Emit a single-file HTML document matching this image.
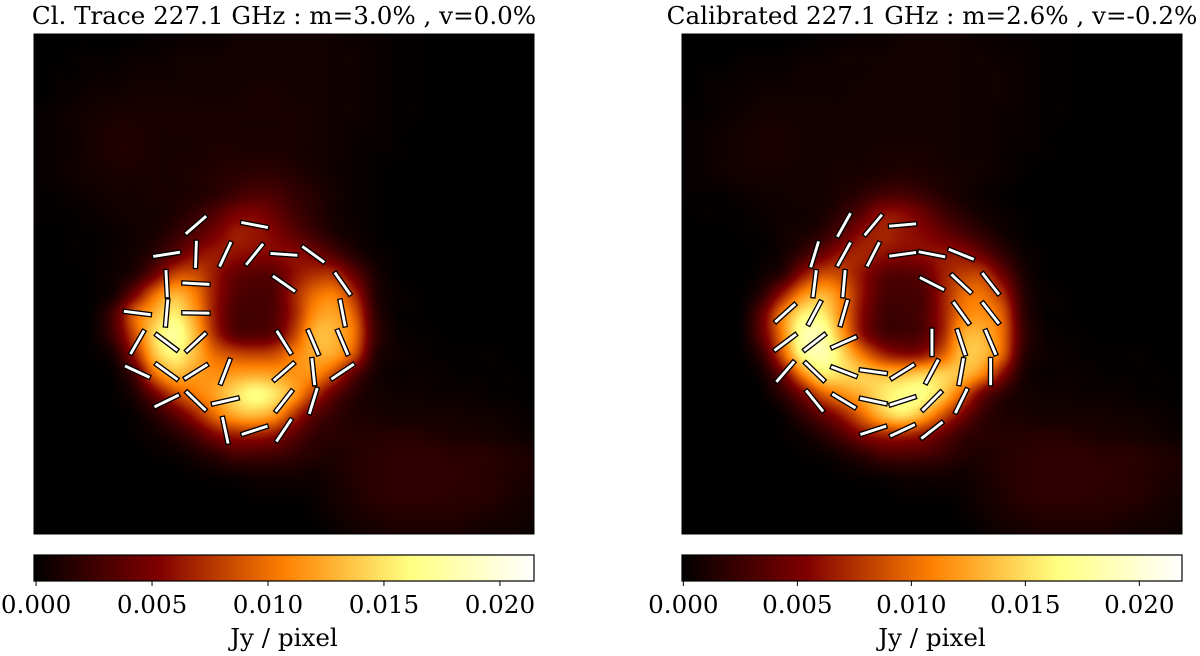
<!DOCTYPE html>
<html lang="en">
<head>
<meta charset="utf-8">
<title>Polarimetric images at 227.1 GHz</title>
<style>
html,body{margin:0;padding:0;background:#fff;}
#stage{position:relative;width:1200px;height:656px;overflow:hidden;background:#fff;}
canvas{position:absolute;display:block;}
svg{position:absolute;left:0;top:0;}
text{font-family:"DejaVu Serif","Liberation Serif",serif;fill:#000;}
</style>
</head>
<body>
<div id="stage">
<canvas id="map-left" width="500" height="500" style="left:34px;top:34px"></canvas>
<canvas id="map-right" width="500" height="500" style="left:682px;top:34px"></canvas>
<svg id="overlay" width="1200" height="656" viewBox="0 0 1200 656" xmlns="http://www.w3.org/2000/svg">
<defs>
<linearGradient id="afmhot" x1="0" x2="1" y1="0" y2="0">
<stop offset="0" stop-color="#000000"/><stop offset="0.25" stop-color="#800000"/><stop offset="0.5" stop-color="#ff8000"/><stop offset="0.75" stop-color="#ffff80"/><stop offset="1" stop-color="#ffffff"/>
</linearGradient>
</defs>
<text x="284" y="24" font-size="24.6" text-anchor="middle">Cl. Trace 227.1 GHz : m=3.0% , v=0.0%</text>
<text x="932" y="24" font-size="24.6" text-anchor="middle">Calibrated 227.1 GHz : m=2.6% , v=-0.2%</text>
<rect x="34" y="34" width="500" height="500" fill="none" stroke="#000" stroke-width="1"/>
<rect x="682" y="34" width="500" height="500" fill="none" stroke="#000" stroke-width="1"/>
<rect x="34" y="555" width="500" height="26" fill="url(#afmhot)" stroke="#000" stroke-width="1.2"/>
<rect x="682" y="555" width="500" height="26" fill="url(#afmhot)" stroke="#000" stroke-width="1.2"/>
<text x="284" y="646" font-size="24.6" text-anchor="middle">Jy / pixel</text>
<text x="932" y="646" font-size="24.6" text-anchor="middle">Jy / pixel</text>
<g id="vectors"></g>
<g id="cbar-ticks"></g>
</svg>
</div>
<script>
// Colorbar data
const tickValues = [0.000, 0.005, 0.010, 0.015, 0.020];
const tickLabels = ["0.000", "0.005", "0.010", "0.015", "0.020"];
const leftScaleMin = -0.00009;
const leftScaleMax = 0.02147;
const rightScaleMin = -0.00006;
const rightScaleMax = 0.02187;

// Flux on a 26x26 grid, as percent of each panel's colour scale
const leftFlux = [
[0,0,0,0,0,0,1,1,2,2,3,3,3,3,3,3,2,2,1,1,0,0,0,0,0,0],
[0,0,1,1,1,2,2,3,3,3,4,4,4,4,4,3,3,2,1,1,0,0,0,0,0,0],
[0,1,1,2,2,3,3,3,4,4,4,4,4,4,4,3,3,2,1,1,0,0,0,0,0,0],
[0,1,2,3,3,4,4,4,4,4,4,5,5,4,4,3,3,2,1,1,0,0,0,0,0,0],
[1,2,3,4,5,5,5,5,5,5,5,5,5,5,4,3,3,2,1,1,0,0,0,0,0,0],
[1,2,3,5,6,6,5,5,5,5,5,5,5,5,4,3,2,2,1,0,0,0,0,0,0,0],
[1,2,3,5,6,6,5,5,5,6,6,6,6,5,4,3,2,1,1,0,0,0,0,0,0,0],
[1,2,3,4,5,5,5,5,6,7,8,9,9,7,5,3,2,1,0,0,0,0,0,0,0,0],
[1,1,2,3,4,4,5,5,6,8,12,15,14,10,7,4,2,1,0,0,0,0,0,0,0,0],
[1,1,1,2,3,4,4,6,10,16,23,25,20,13,8,4,2,1,0,0,0,0,0,0,0,0],
[0,0,1,1,2,3,5,10,16,23,30,29,25,18,12,6,3,1,0,0,0,0,0,0,0,0],
[0,0,1,1,2,4,9,18,27,30,28,26,26,27,23,15,7,2,1,0,0,0,0,0,0,0],
[0,0,0,1,3,7,21,38,40,30,20,17,18,28,34,34,19,6,1,0,0,0,0,0,0,0],
[0,0,0,1,5,23,46,60,50,30,17,14,16,32,46,49,33,8,2,1,0,0,0,0,0,0],
[0,0,0,2,15,44,60,72,56,30,15,13,16,32,53,57,43,11,2,1,0,0,0,0,0,0],
[0,0,0,2,14,40,68,80,62,34,18,16,20,38,60,60,47,13,3,1,1,0,0,0,0,0],
[0,0,0,1,6,30,62,74,62,46,40,38,40,50,58,57,40,9,3,2,1,1,1,1,0,0],
[0,0,0,0,2,14,45,60,56,53,56,58,56,54,52,38,17,5,2,2,2,1,1,1,1,0],
[0,0,0,0,1,6,21,38,48,56,68,76,70,55,35,18,8,4,3,3,2,2,2,1,1,0],
[0,0,0,0,0,2,8,18,31,46,58,62,55,35,18,10,6,5,4,4,4,4,3,3,2,1],
[0,0,0,0,0,1,3,7,14,25,31,32,28,18,10,8,7,7,7,7,6,5,5,4,3,2],
[0,0,0,0,0,0,1,2,5,9,14,14,13,10,7,6,7,8,9,9,9,8,8,7,6,5],
[0,0,0,0,0,0,0,0,1,2,3,4,4,4,3,5,7,8,9,9,9,9,8,7,6,5],
[0,0,0,0,0,0,0,0,0,0,0,1,1,1,2,4,6,8,9,9,9,8,8,7,5,4],
[0,0,0,0,0,0,0,0,0,0,0,0,0,0,1,3,5,6,7,7,7,7,6,5,4,3],
[0,0,0,0,0,0,0,0,0,0,0,0,0,0,0,1,3,4,5,5,5,5,4,3,3,2]
];
const rightFlux = [
[0,0,0,0,0,0,0,1,1,2,2,3,3,3,3,2,2,1,1,1,0,0,0,0,0,0],
[0,0,0,1,1,1,2,2,3,3,3,4,4,4,3,3,2,2,1,1,0,0,0,0,0,0],
[0,1,1,2,2,2,3,3,3,3,4,4,4,4,3,3,3,2,1,1,0,0,0,0,0,0],
[0,1,2,2,3,3,3,3,3,4,4,4,4,4,3,3,3,2,1,1,0,0,0,0,0,0],
[1,1,2,3,4,4,4,4,4,4,4,4,4,4,3,3,2,2,1,1,0,0,0,0,0,0],
[1,2,3,4,5,5,4,4,4,4,4,4,4,4,3,3,2,2,1,0,0,0,0,0,0,0],
[1,2,3,4,5,5,4,4,4,4,5,5,5,4,3,3,2,1,1,0,0,0,0,0,0,0],
[1,2,3,4,4,4,4,4,5,5,6,7,6,5,4,3,2,1,0,0,0,0,0,0,0,0],
[1,1,1,2,3,3,4,4,6,9,13,14,11,7,4,2,1,0,0,0,0,0,0,0,0,0],
[0,1,1,1,2,3,3,5,10,18,28,27,21,13,8,4,2,1,0,0,0,0,0,0,0,0],
[0,0,0,1,1,3,5,9,18,28,32,29,26,21,15,9,4,1,0,0,0,0,0,0,0,0],
[0,0,0,0,1,4,11,21,30,32,28,26,27,29,28,20,10,3,1,0,0,0,0,0,0,0],
[0,0,0,0,3,9,28,40,38,28,18,16,19,30,37,37,21,6,1,0,0,0,0,0,0,0],
[0,0,0,1,9,30,52,60,48,28,15,13,15,30,45,47,34,9,2,1,0,0,0,0,0,0],
[0,0,0,2,20,50,72,72,50,26,13,12,15,30,49,53,43,11,2,1,0,0,0,0,0,0],
[0,0,0,2,20,50,82,82,56,28,15,13,16,32,58,60,46,13,3,1,1,0,0,0,0,0],
[0,0,0,1,11,42,76,84,68,48,33,27,29,43,62,62,44,10,3,2,1,1,1,1,0,0],
[0,0,0,0,4,21,50,70,68,65,62,62,66,66,62,50,26,6,2,2,2,1,1,1,1,0],
[0,0,0,0,1,9,23,42,52,60,70,76,76,64,43,21,9,4,3,3,2,2,2,1,1,0],
[0,0,0,0,0,2,10,20,31,46,62,70,60,42,24,11,6,5,4,4,4,4,3,3,2,1],
[0,0,0,0,0,1,3,8,16,26,32,33,29,20,11,8,7,7,7,7,6,5,5,4,3,2],
[0,0,0,0,0,0,1,2,5,9,14,15,14,11,7,6,7,8,9,9,9,8,8,7,6,5],
[0,0,0,0,0,0,0,0,1,2,3,4,4,4,3,5,7,8,9,9,9,9,8,7,6,5],
[0,0,0,0,0,0,0,0,0,0,0,1,1,1,2,4,6,8,9,9,9,8,8,7,5,4],
[0,0,0,0,0,0,0,0,0,0,0,0,0,0,1,3,5,6,7,7,7,7,6,5,4,3],
[0,0,0,0,0,0,0,0,0,0,0,0,0,0,0,1,3,4,5,5,5,5,4,3,3,2]
];

// Polarisation vectors: sampling-grid column, row, and angle in degrees above horizontal
const leftVectorCols = [2,4, 1,2,3,4,5,6, 1,2,5,7, 0,1,2,7, 0,1,2,5,6,7, 0,1,2,3,5,6,7, 1,2,3,5,6, 3,4,5];
const leftVectorRows = [0,0, 1,1,1,1,1,1, 2,2,2,2, 3,3,3,3, 4,4,4,4,4,4, 5,5,5,5,5,5,5, 6,6,6,6,6, 7,7,7];
const leftVectorAngles = [41,-11, 9,88,65,51,-4,-36, 93,-3,-35,-55, -7,85,-1,-79, 60,-37,43,-58,-67,-67, -25,-36,32,69,41,-84,34, 26,-44,13,52,73, -78,18,56];
const rightVectorCols = [2,3,4, 1,2,3,4,5,6, 1,2,5,6,7, 0,1,2,6,7, 0,1,2,5,6,7, 0,1,2,3,4,5,6,7, 1,2,3,4,5,6, 3,4,5];
const rightVectorRows = [0,0,0, 1,1,1,1,1,1, 2,2,2,2,2, 3,3,3,3,3, 4,4,4,4,4,4, 5,5,5,5,5,5,5,5, 6,6,6,6,6,6, 7,7,7];
const rightVectorAngles = [61,50,5, 73,61,63,8,-11,-22, 83,85,-27,-43,-52, 42,62,74,-54,-52, 37,38,24,90,-72,-67, 49,-44,-21,-8,32,62,80,90, -51,-31,-12,18,45,64, 18,25,38];

const SVG_NS = "http://www.w3.org/2000/svg";

// afmhot colour map
function afmhot(f) {
  const c = v => Math.max(0, Math.min(255, Math.round(v * 255)));
  return [c(2 * f), c(2 * f - 0.5), c(2 * f - 1)];
}
function catmull(a, b, c, d, t) {
  return 0.5 * (2 * b + (c - a) * t + (2 * a - 5 * b + 4 * c - d) * t * t + (3 * b - a - 3 * c + d) * t * t * t);
}
// Heatmap: displayed with smooth interpolation between the grid cells, like imshow
function drawHeatmap(id, grid) {
  const ctx = document.getElementById(id).getContext("2d");
  const img = ctx.createImageData(500, 500);
  const rows = grid.length, cols = grid[0].length;
  const at = (r, q) => grid[Math.max(0, Math.min(rows - 1, r))][Math.max(0, Math.min(cols - 1, q))];
  for (let y = 0; y < 500; y++) {
    const gy = y / 500 * (rows - 1), r = Math.floor(gy), ty = gy - r;
    for (let x = 0; x < 500; x++) {
      const gx = x / 500 * (cols - 1), q = Math.floor(gx), tx = gx - q;
      const col = [];
      for (let k = -1; k <= 2; k++) {
        col.push(catmull(at(r + k, q - 1), at(r + k, q), at(r + k, q + 1), at(r + k, q + 2), tx));
      }
      const v = catmull(col[0], col[1], col[2], col[3], ty);
      const rgb = afmhot(Math.max(0, v) / 100);
      const p = (y * 500 + x) * 4;
      img.data[p] = rgb[0];
      img.data[p + 1] = rgb[1];
      img.data[p + 2] = rgb[2];
      img.data[p + 3] = 255;
    }
  }
  ctx.putImageData(img, 0, 0);
}
drawHeatmap("map-left", leftFlux);
drawHeatmap("map-right", rightFlux);

// Vector axes
const vectorLayer = document.getElementById("vectors");
function vectorX(originX, col) { return originX + 103.3 + 29.33 * col; }
function vectorY(row) { return 34 + 191 + 29.33 * row; }
function drawVectors(originX, cols, rows, angles) {
  cols.forEach(function (col, i) {
    const cx = vectorX(originX, col), cy = vectorY(rows[i]);
    const bar = document.createElementNS(SVG_NS, "rect");
    bar.setAttribute("x", (cx - 14.2).toFixed(2));
    bar.setAttribute("y", (cy - 2.1).toFixed(2));
    bar.setAttribute("width", "28.4");
    bar.setAttribute("height", "4.2");
    bar.setAttribute("fill", "#fff");
    bar.setAttribute("stroke", "#000");
    bar.setAttribute("stroke-width", "1.3");
    bar.setAttribute("transform", "rotate(" + (-angles[i]) + " " + cx.toFixed(2) + " " + cy.toFixed(2) + ")");
    
    
    vectorLayer.appendChild(bar);
  });
}
drawVectors(34, leftVectorCols, leftVectorRows, leftVectorAngles);
drawVectors(682, rightVectorCols, rightVectorRows, rightVectorAngles);

// Colorbar ticks
const tickLayer = document.getElementById("cbar-ticks");
function drawColorbarTicks(originX, vmin, vmax) {
  const scale = v => originX + (v - vmin) / (vmax - vmin) * 500;
  tickValues.forEach(function (v, i) {
    const x = scale(v);
    const mark = document.createElementNS(SVG_NS, "line");
    mark.setAttribute("x1", x.toFixed(2));
    mark.setAttribute("x2", x.toFixed(2));
    mark.setAttribute("y1", "581");
    mark.setAttribute("y2", "586");
    mark.setAttribute("stroke", "#000");
    mark.setAttribute("stroke-width", "1");
    
    
    tickLayer.appendChild(mark);
    const label = document.createElementNS(SVG_NS, "text");
    label.setAttribute("x", x.toFixed(2));
    label.setAttribute("y", "613");
    label.setAttribute("font-size", "24.6");
    label.setAttribute("text-anchor", "middle");
    label.textContent = tickLabels[i];
    
    
    tickLayer.appendChild(label);
  });
}
drawColorbarTicks(34, leftScaleMin, leftScaleMax);
drawColorbarTicks(682, rightScaleMin, rightScaleMax);
</script>
</body>
</html>
